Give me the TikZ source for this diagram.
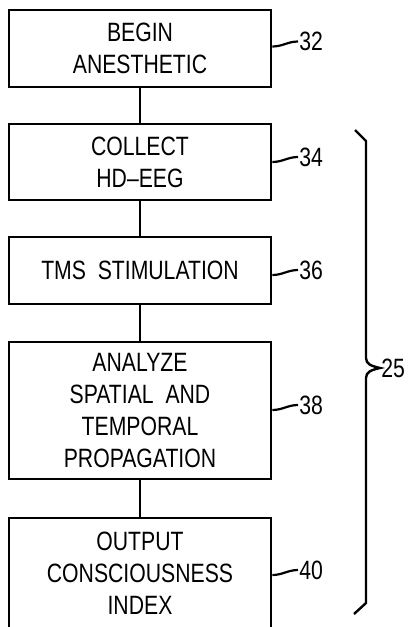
\documentclass[tikz,border=0pt]{standalone}
\usepackage{fontspec}
\setmainfont{Liberation Sans}[FakeStretch=0.8]
\usepackage{tikz}
\usetikzlibrary{calc}

\begin{document}
\begin{tikzpicture}[x=1pt, y=-1pt, line width=2.8pt,
	stepbox/.style={draw, rectangle, minimum width=262pt, inner sep=0pt, align=center, font=\fontsize{26.5}{32}\selectfont},
	callout/.style={anchor=west, inner sep=0pt, font=\fontsize{26.5}{32}\selectfont},
	lead/.style={line width=2.2pt, out=0, in=180}]
			\useasboundingbox (0, 0) rectangle (409, 627);
			\node[stepbox, minimum height=77pt] (s32) at (140, 48.5) {BEGIN\\ANESTHETIC};
			\node[stepbox, minimum height=76pt] (s34) at (140, 162) {COLLECT\\HD--EEG};
			\node[stepbox, minimum height=67pt] (s36) at (140, 270.5) {TMS\ \ STIMULATION};
			\node[stepbox, minimum height=137pt] (s38) at (140, 410.5) {ANALYZE\\SPATIAL\ \ AND\\TEMPORAL\\PROPAGATION};
			\node[stepbox, minimum height=110pt] (s40) at (140, 573) {OUTPUT\\CONSCIOUSNESS\\INDEX};
			\draw (s32) -- (s34);
			\draw (s34) -- (s36);
			\draw (s36) -- (s38);
			\draw (s38) -- (s40);
			% reference numerals
			\node[callout] (l32) at (298, 41.5) {32};
			\node[callout] (l34) at (298, 157) {34};
			\node[callout] (l36) at (298, 270) {36};
			\node[callout] (l38) at (298, 405) {38};
			\node[callout] (l40) at (298, 570) {40};
			\draw[lead] ($(s32.east |- l32)+(0, 5)$) to (l32.west);
			\draw[lead] ($(s34.east |- l34)+(0, 5)$) to (l34.west);
			\draw[lead] ($(s36.east |- l36)+(0, 5)$) to (l36.west);
			\draw[lead] ($(s38.east |- l38)+(0, 5)$) to (l38.west);
			\draw[lead] ($(s40.east |- l40)+(0, 5)$) to (l40.west);
			% brace over the steps
			\node[callout] (l25) at (380, 368) {25};
			\coordinate (btop) at (355, 130);
			\coordinate (bbot) at (354, 614);
			\draw[line width=2.4pt] (btop) -- (366, 141) -- (366, 358) .. controls (366, 364) and (371, 366) .. (l25.west) .. controls (371, 370) and (366, 372) .. (366, 378) -- (366, 603) -- (bbot);
		\end{tikzpicture}
\end{document}
